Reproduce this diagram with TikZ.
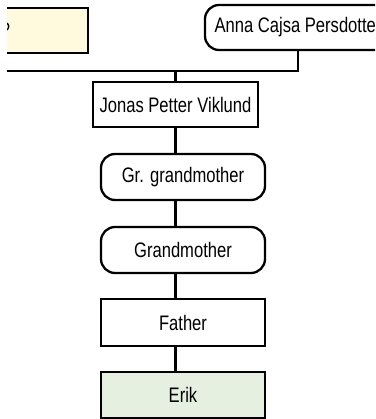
\documentclass[tikz,border=0pt]{standalone}
\usepackage{fontspec}
\setmainfont{Liberation Sans}[FakeStretch=0.79]
\definecolor{unkfill}{RGB}{255,250,221}
\definecolor{selfill}{RGB}{229,240,224}
\begin{document}
\begin{tikzpicture}[x=1pt,y=-1pt,
  person/.style={draw=black, line width=2.3pt, fill=white, minimum width=164pt,
    minimum height=46pt, inner sep=0pt, font=\fontsize{21}{24}\selectfont},
  rperson/.style={person, rounded corners=14pt},
  link/.style={draw=black, line width=2.3pt}]
\useasboundingbox (0,0) rectangle (375,419);
\begin{scope}
\clip (7,0) rectangle (375,419);
\node[person, fill=unkfill, minimum width=165pt, minimum height=45pt] (unk) at (5.5,30.5) {?};
\node[rperson, minimum width=186pt, minimum height=45pt] (anna) at (298,27.5) {Anna Cajsa Persdotter};
\node[person, minimum width=165pt, minimum height=45pt] (jonas) at (175.5,104.5) {Jonas Petter Viklund};
\node[rperson] (ggm) at (183,177) {Gr. grandmother};
\node[rperson] (gm) at (183,250) {Grandmother};
\node[person, minimum height=47pt] (father) at (183,322.5) {Father};
\node[person, fill=selfill] (erik) at (183,395) {Erik};
\coordinate (join) at (175.5,71);
\draw[link] (unk.south) |- (join) -| (anna.south);
\draw[link] (join) -- (jonas.north);
\draw[link] (jonas.south) -- (jonas.south |- ggm.north);
\draw[link] (ggm.south -| jonas.south) -- (jonas.south |- gm.north);
\draw[link] (gm.south -| jonas.south) -- (jonas.south |- father.north);
\draw[link] (father.south -| jonas.south) -- (jonas.south |- erik.north);
\end{scope}
\end{tikzpicture}
\end{document}
